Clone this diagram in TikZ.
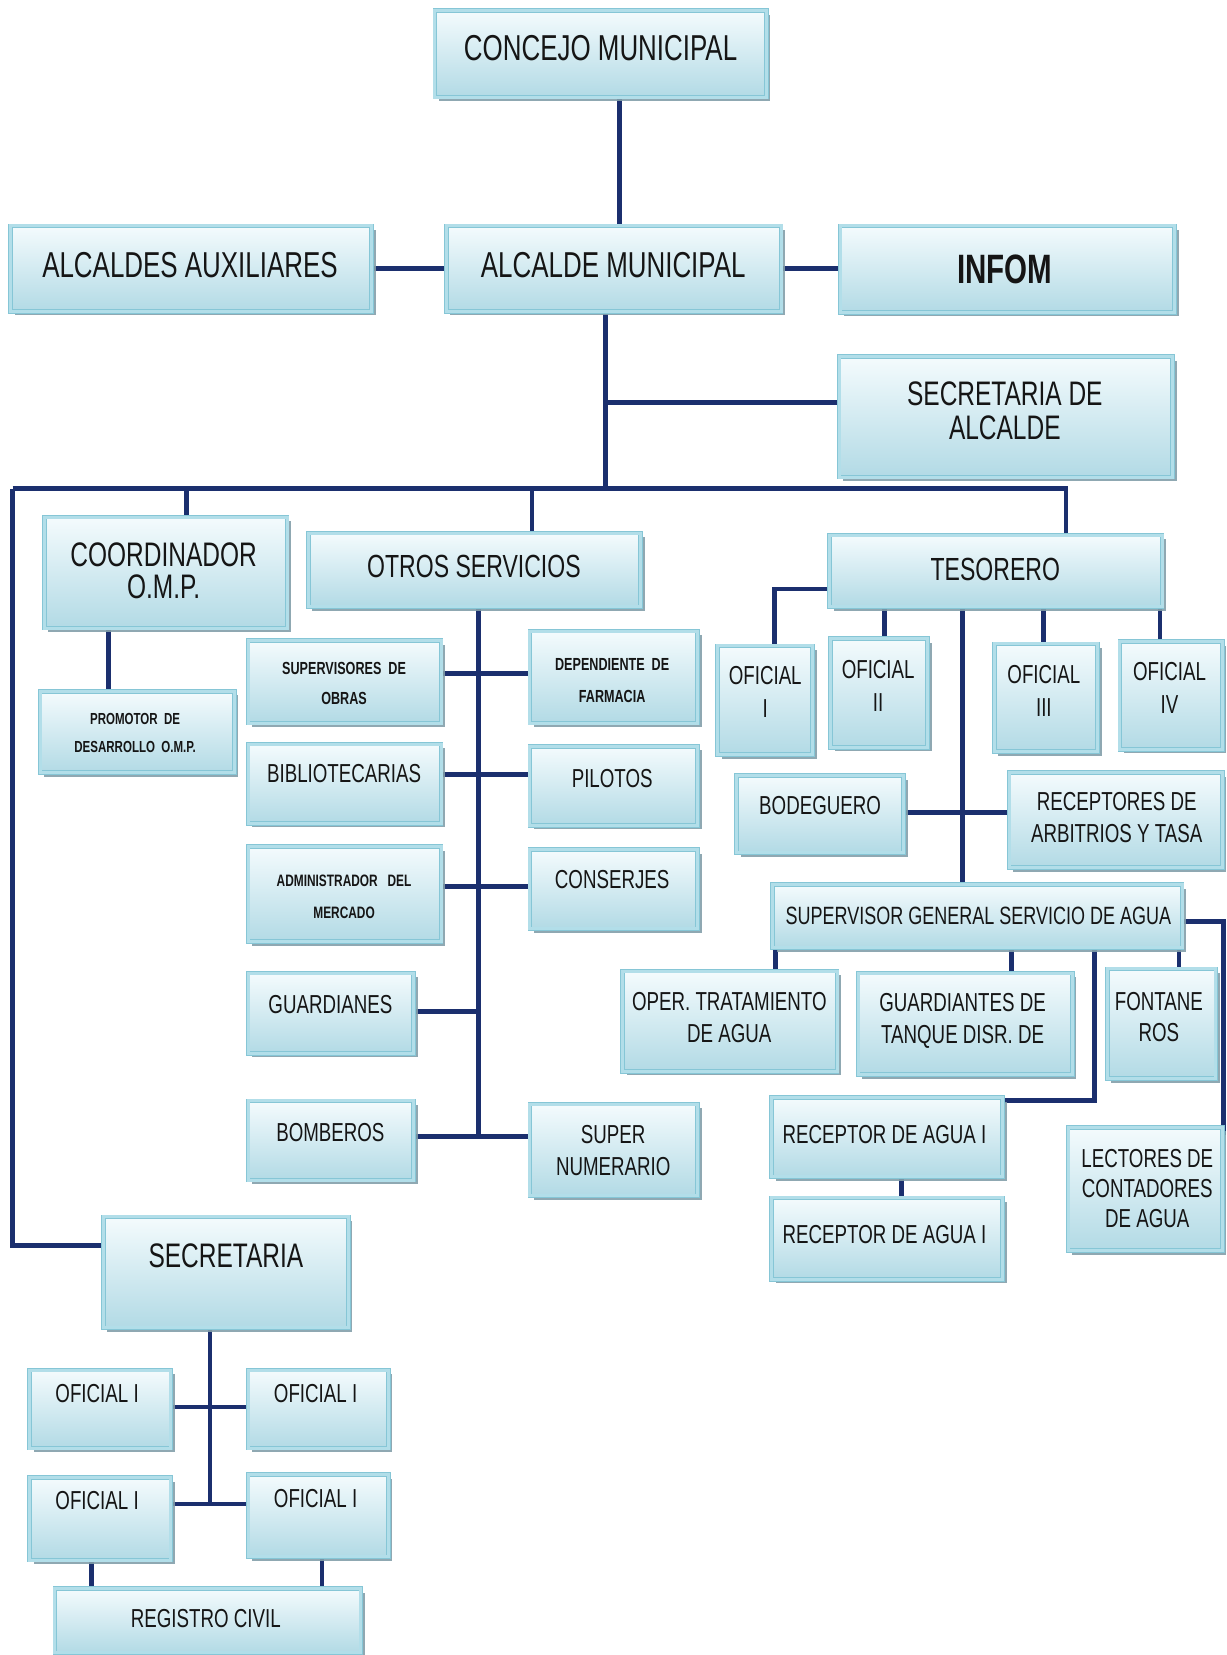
\documentclass[tikz,border=0pt]{standalone}
\usepackage{fontspec}
\setmainfont{Liberation Sans}[FakeStretch=0.72]
\usetikzlibrary{shadows,backgrounds}
\definecolor{navy}{HTML}{1B2F6E}
\definecolor{bandc}{HTML}{B2DEE9}
\definecolor{edgec}{HTML}{86C6D6}
\definecolor{topc}{HTML}{F4FBFD}
\definecolor{botc}{HTML}{B2DAE5}
\definecolor{shadc}{HTML}{839FAA}
\definecolor{inkc}{HTML}{151515}
\newcommand\fs[2]{\fontsize{#1}{#2}\selectfont}
\tikzset{
  orgbox/.style={rectangle, draw=edgec, line width=0.8pt, double=bandc, double distance=3pt,
    top color=topc, bottom color=botc, inner sep=0pt, outer sep=0pt,
    drop shadow={shadow xshift=4pt, shadow yshift=-4pt, fill=shadc, opacity=0.9}},
  txt/.style={align=center, text=inkc, inner sep=0pt},
  conn/.style={draw=navy, line width=4.8pt, line join=miter}
}
\newcommand\obox[5]{\node[orgbox, minimum width={(#4-#2)*1.0551pt}, minimum height={(#5-#3)*1.0551pt}] (#1) at ({(#2+#4)/2},{(#3+#5)/2}) {};}
\begin{document}
\begin{tikzpicture}[x=1.0551pt,y=-1.0551pt]
\useasboundingbox (0,0) rectangle (1162,1568);
% boxes
\obox{concejo}{412}{10}{726}{92}
\obox{aux}{10}{214}{352}{295}
\obox{alcalde}{423}{214}{740}{295}
\obox{infom}{796}{214}{1113}{296}
\obox{secalc}{795}{338}{1111}{452}
\obox{coord}{42}{490}{272}{595}
\obox{otros}{292}{505}{607}{575}
\obox{tesorero}{786}{507}{1101}{575}
\obox{promotor}{38}{655}{222}{732}
\obox{superv}{235}{607}{418}{685}
\obox{farm}{502}{598}{661}{685}
\obox{biblio}{235}{705}{418}{780}
\obox{pilotos}{502}{707}{661}{782}
\obox{admin}{235}{802}{418}{892}
\obox{conserjes}{502}{805}{661}{880}
\obox{guard}{235}{922}{392}{998}
\obox{bomb}{235}{1043}{392}{1118}
\obox{supnum}{502}{1046}{661}{1133}
\obox{secret}{98}{1153}{330}{1258}
\obox{ofa}{28}{1298}{162}{1372}
\obox{ofb}{235}{1298}{368}{1372}
\obox{ofc}{28}{1400}{162}{1478}
\obox{ofd}{235}{1397}{368}{1475}
\obox{registro}{52}{1505}{342}{1566}
\obox{toI}{680}{612}{770}{715}
\obox{toII}{787}{605}{879}{708}
\obox{toIII}{942}{610}{1040}{712}
\obox{toIV}{1061}{608}{1158}{710}
\obox{bodeg}{698}{735}{856}{808}
\obox{recept}{956}{732}{1158}{822}
\obox{supgen}{732}{838}{1120}{898}
\obox{oper}{590}{920}{793}{1015}
\obox{guardt}{813}{922}{1016}{1018}
\obox{fontan}{1049}{918}{1152}{1022}
\obox{recA}{731}{1040}{950}{1115}
\obox{recB}{731}{1135}{950}{1212}
\obox{lect}{1012}{1068}{1158}{1185}
% texts
\node[txt, font={\fs{36}{36}}] (concejo-t) at (569,46) {CONCEJO MUNICIPAL};
\node[txt, font={\fs{36}{36}}] (aux-t) at (180,251) {ALCALDES AUXILIARES};
\node[txt, font={\fs{36}{36}}] (alcalde-t) at (581,251) {ALCALDE MUNICIPAL};
\node[txt, font={\fs{41}{41}\bfseries}] (infom-t) at (952,255) {INFOM};
\node[txt, font={\fs{34}{34}}] (secalc-t) at (952,389) {SECRETARIA DE\\ALCALDE};
\node[txt, font={\fs{34}{32}}] (coord-t) at (155,541) {COORDINADOR\\O.M.P.};
\node[txt, font={\fs{32}{32}}] (otros-t) at (449,537) {OTROS SERVICIOS};
\node[txt, font={\fs{32}{32}}] (tesorero-t) at (943,540) {TESORERO};
\node[txt, font={\fs{16}{28}\bfseries}] (promotor-t) at (128,694) {PROMOTOR\ \ DE\\DESARROLLO\ \ O.M.P.};
\node[txt, font={\fs{17.5}{30}\bfseries}] (superv-t) at (326,648) {SUPERVISORES\ \ DE\\OBRAS};
\node[txt, font={\fs{17.5}{32}\bfseries}] (farm-t) at (580,645) {DEPENDIENTE\ \ DE\\FARMACIA};
\node[txt, font={\fs{26}{26}}] (biblio-t) at (326,733) {BIBLIOTECARIAS};
\node[txt, font={\fs{26}{26}}] (pilotos-t) at (580,738) {PILOTOS};
\node[txt, font={\fs{16.5}{32}\bfseries}] (admin-t) at (326,850) {ADMINISTRADOR\ \ \ DEL\\MERCADO};
\node[txt, font={\fs{26}{26}}] (conserjes-t) at (580,833) {CONSERJES};
\node[txt, font={\fs{26}{26}}] (guard-t) at (313,952) {GUARDIANES};
\node[txt, font={\fs{26}{26}}] (bomb-t) at (313,1073) {BOMBEROS};
\node[txt, font={\fs{26}{32}}] (supnum-t) at (581,1090) {SUPER\\NUMERARIO};
\node[txt, font={\fs{34}{34}}] (secret-t) at (214,1190) {SECRETARIA};
\node[txt, font={\fs{26}{26}}] (ofa-t) at (92,1320) {OFICIAL I};
\node[txt, font={\fs{26}{26}}] (ofb-t) at (299,1320) {OFICIAL I};
\node[txt, font={\fs{26}{26}}] (ofc-t) at (92,1422) {OFICIAL I};
\node[txt, font={\fs{26}{26}}] (ofd-t) at (299,1420) {OFICIAL I};
\node[txt, font={\fs{26}{26}}] (registro-t) at (195,1533) {REGISTRO CIVIL};
\node[txt, font={\fs{26}{33}}] (toI-t) at (725,656) {OFICIAL\\I};
\node[txt, font={\fs{26}{33}}] (toII-t) at (832,650) {OFICIAL\\II};
\node[txt, font={\fs{26}{33}}] (toIII-t) at (989,655) {OFICIAL\\III};
\node[txt, font={\fs{26}{33}}] (toIV-t) at (1108,652) {OFICIAL\\IV};
\node[txt, font={\fs{26}{26}}] (bodeg-t) at (777,763) {BODEGUERO};
\node[txt, font={\fs{26}{32}}] (recept-t) at (1058,775) {RECEPTORES DE\\ARBITRIOS Y TASA};
\node[txt, font={\fs{25}{25}}] (supgen-t) at (927,868) {SUPERVISOR GENERAL SERVICIO DE AGUA};
\node[txt, font={\fs{26}{32}}] (oper-t) at (691,964) {OPER. TRATAMIENTO\\DE AGUA};
\node[txt, font={\fs{26}{32}}] (guardt-t) at (912,967) {GUARDIANTES DE\\TANQUE DISR. DE};
\node[txt, font={\fs{26}{31}}] (fontan-t) at (1098,964) {FONTANE\\ROS};
\node[txt, font={\fs{26}{26}}] (recA-t) at (838,1075) {RECEPTOR DE AGUA I};
\node[txt, font={\fs{26}{26}}] (recB-t) at (838,1170) {RECEPTOR DE AGUA I};
\node[txt, font={\fs{26}{30}}] (lect-t) at (1087,1126) {LECTORES DE\\CONTADORES\\DE AGUA};
% connectors
\coordinate (busL) at (12,463);
\coordinate (busR) at (1010,463);
\coordinate (busM) at (574,463);
\begin{scope}[on background layer]
\draw[conn] (587,0 |- concejo.south) -- (587,0 |- alcalde.north);
\draw[conn] (aux.east) -- (aux.east -| alcalde.west);
\draw[conn] (alcalde.east) -- (alcalde.east -| infom.west);
\draw[conn] (574,0 |- alcalde.south) -- (busM);
\draw[conn] (574,381) -- (secalc.west |- 0,381);
\draw[conn] (busL) -- (busR) -- (busR |- tesorero.north);
\draw[conn] (177,463) -- (177,0 |- coord.north);
\draw[conn] (504,463) -- (504,0 |- otros.north);
\draw[conn] (busL) -- (12,1180) -- (secret.west |- 0,1180);
\draw[conn] (103,0 |- coord.south) -- (103,0 |- promotor.north);
\draw[conn] (453,0 |- otros.south) -- (453,1077);
\draw[conn] (superv.east |- 0,638) -- (farm.west |- 0,638);
\draw[conn] (biblio.east |- 0,734) -- (pilotos.west |- 0,734);
\draw[conn] (admin.east |- 0,840) -- (conserjes.west |- 0,840);
\draw[conn] (guard.east |- 0,958) -- (453,958);
\draw[conn] (bomb.east |- 0,1077) -- (supnum.west |- 0,1077);
\draw[conn] (tesorero.west |- 0,558) -- (734,558) -- (734,0 |- toI.north);
\draw[conn] (838,0 |- tesorero.south) -- (838,0 |- toII.north);
\draw[conn] (989,0 |- tesorero.south) -- (989,0 |- toIII.north);
\draw[conn] (1099,0 |- tesorero.south) -- (1099,0 |- toIV.north);
\draw[conn] (912,0 |- tesorero.south) -- (912,0 |- supgen.north);
\draw[conn] (bodeg.east |- 0,770) -- (recept.west |- 0,770);
\draw[conn] (735,0 |- supgen.south) -- (735,0 |- oper.north);
\draw[conn] (958,0 |- supgen.south) -- (958,0 |- guardt.north);
\draw[conn] (1117,0 |- supgen.south) -- (1117,0 |- fontan.north);
\draw[conn] (1037,0 |- supgen.south) -- (1037,1043) -- (recA.east |- 0,1043);
\draw[conn] (supgen.east |- 0,873) -- (1159,873) -- (1159,1075);
\draw[conn] (854,0 |- recA.south) -- (854,0 |- recB.north);
\draw[conn] (199,0 |- secret.south) -- (199,1425);
\draw[conn] (ofa.east |- 0,1333) -- (ofb.west |- 0,1333);
\draw[conn] (ofc.east |- 0,1425) -- (ofd.west |- 0,1425);
\draw[conn] (87,0 |- ofc.south) -- (87,0 |- registro.north);
\draw[conn] (305,0 |- ofd.south) -- (305,0 |- registro.north);
\end{scope}
\end{tikzpicture}
\end{document}
